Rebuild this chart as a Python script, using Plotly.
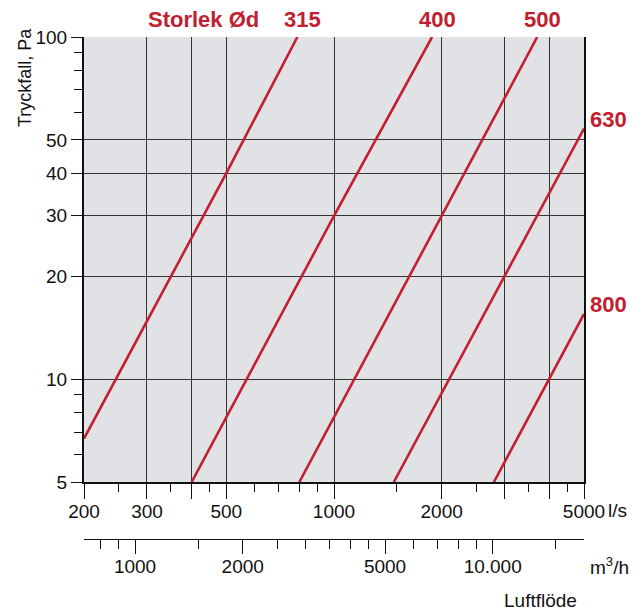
import plotly.graph_objects as go
import math

# ---------------- data ----------------
sizes = ["315", "400", "500", "630", "800"]
flow_ls = {
    "315": [200, 500, 790],
    "400": [400, 1000, 1880],
    "500": [800, 2000, 3700],
    "630": [1470, 3000, 5000],
    "800": [2800, 4000, 5000],
}
pressure_pa = {
    "315": [6.7, 40, 100],
    "400": [5, 30, 100],
    "500": [5, 30, 100],
    "630": [5, 20, 54],
    "800": [5, 10, 15.5],
}

x_range_ls = [200, 5000]
y_range_pa = [5, 100]
ls_to_m3h = 3.6

x_major = [200, 300, 400, 500, 1000, 2000, 3000, 4000, 5000]
x_major_text = ["200", "300", "", "500", "1000", "2000", "", "", "5000"]
x_minor = [250, 350, 450, 600, 700, 800, 900, 1500, 2500, 3500, 4500]

y_major = [5, 10, 20, 30, 40, 50, 100]
y_major_text = ["5", "10", "20", "30", "40", "50", "100"]
y_minor = [6, 7, 8, 9, 60, 70, 80, 90]

m3h_major = [1000, 2000, 5000, 10000]
m3h_major_text = ["1000", "2000", "5000", "10.000"]
m3h_minor = [800, 900, 1500, 2500, 3000, 3500, 4000, 4500, 6000, 7000, 8000, 9000, 15000]

RED = "#c0202f"
FONT = "Liberation Sans, Arial, Helvetica, sans-serif"

# ---------------- layout geometry ----------------
W, H = 637, 613
ml, mr, mt, mb = 84, 53, 37, 74
plot_h = H - mt - mb
y_bottom_px = 482
ydom0 = (H - mb - y_bottom_px) / plot_h

fig = go.Figure()

for s in sizes:
    fig.add_trace(go.Scatter(
        x=flow_ls[s], y=pressure_pa[s], mode="lines",
        line=dict(color=RED, width=2.6), name=s, showlegend=False,
        hoverinfo="skip", cliponaxis=True,
    ))

# invisible trace to materialise the m3/h axis
fig.add_trace(go.Scatter(
    x=[x_range_ls[0] * ls_to_m3h, x_range_ls[1] * ls_to_m3h],
    y=[y_range_pa[0], y_range_pa[0]], xaxis="x2", yaxis="y",
    mode="markers", marker=dict(opacity=0), showlegend=False, hoverinfo="skip",
))

tickfont = dict(family=FONT, size=19, color="#111")

fig.update_layout(
    width=W, height=H,
    margin=dict(l=ml, r=mr, t=mt, b=mb, pad=0),
    paper_bgcolor="white",
    plot_bgcolor="#e1e2e6",
    showlegend=False,
    xaxis=dict(
        type="log",
        range=[math.log10(x_range_ls[0]), math.log10(x_range_ls[1])],
        tickmode="array", tickvals=x_major, ticktext=x_major_text,
        ticks="outside", ticklen=15, tickwidth=1, tickcolor="#111",
        tickfont=tickfont, ticklabelstandoff=-4,
        showgrid=True, gridcolor="#333", gridwidth=1,
        showline=True, linecolor="#111", linewidth=2,
        zeroline=False,
        minor=dict(tickmode="array", tickvals=x_minor, ticks="outside",
                   ticklen=8, tickwidth=1, tickcolor="#111", showgrid=False),
        anchor="y",
    ),
    xaxis2=dict(
        type="log", overlaying="x", anchor="free", position=0, side="bottom",
        range=[math.log10(x_range_ls[0] * ls_to_m3h), math.log10(x_range_ls[1] * ls_to_m3h)],
        tickmode="array", tickvals=m3h_major, ticktext=m3h_major_text,
        ticks="outside", ticklen=14, tickwidth=1, tickcolor="#111",
        tickfont=tickfont, ticklabelstandoff=-4,
        showgrid=False, showline=True, linecolor="#111", linewidth=1,
        zeroline=False,
        minor=dict(tickmode="array", tickvals=m3h_minor, ticks="outside",
                   ticklen=9, tickwidth=1, tickcolor="#111", showgrid=False),
    ),
    yaxis=dict(
        type="log", domain=[ydom0, 1],
        range=[math.log10(y_range_pa[0]), math.log10(y_range_pa[1])],
        tickmode="array", tickvals=y_major, ticktext=y_major_text,
        ticks="outside", ticklen=11, tickwidth=1, tickcolor="#111",
        tickfont=tickfont,
        showgrid=True, gridcolor="#333", gridwidth=1,
        showline=True, linecolor="#111", linewidth=2, mirror=True,
        zeroline=False,
        minor=dict(tickmode="array", tickvals=y_minor, ticks="outside",
                   ticklen=8, tickwidth=1, tickcolor="#111", showgrid=False),
    ),
)

def px_x(px):
    return (px - ml) / (W - ml - mr)

def px_y(px):
    return (H - mb - px) / plot_h

redfont = dict(family=FONT, size=22, color=RED, weight="bold")

ann = []
# size labels at the top of each line
top_sizes = ["315", "400", "500"]
for s in top_sizes:
    ann.append(dict(x=math.log10(flow_ls[s][-1]), xref="x", y=1, yref="paper",
                    text=s, showarrow=False, xanchor="center", yanchor="bottom",
                    xshift=5, yshift=3, font=redfont))
right_sizes = ["630", "800"]
for s in right_sizes:
    ann.append(dict(x=1, xref="paper", y=math.log10(pressure_pa[s][-1]), yref="y",
                    text=s, showarrow=False, xanchor="left", yanchor="middle",
                    xshift=4, yshift=9, font=redfont))
ann.append(dict(x=px_x(203), y=1, xref="paper", yref="paper", text="Storlek Ød",
                showarrow=False, xanchor="center", yanchor="bottom", yshift=3,
                font=redfont))
ann.append(dict(x=px_x(25), y=px_y(78), xref="paper", yref="paper",
                text="Tryckfall, Pa", textangle=-90, showarrow=False,
                xanchor="center", yanchor="middle",
                font=dict(family=FONT, size=18, color="#111")))
ann.append(dict(x=px_x(606), y=px_y(510), xref="paper", yref="paper",
                text="l/s", showarrow=False, xanchor="left", yanchor="middle",
                font=dict(family=FONT, size=19, color="#111")))
ann.append(dict(x=px_x(588), y=px_y(566), xref="paper", yref="paper",
                text="m<sup>3</sup>/h", showarrow=False, xanchor="left", yanchor="middle",
                font=dict(family=FONT, size=19, color="#111")))
ann.append(dict(x=px_x(540), y=px_y(600), xref="paper", yref="paper",
                text="Luftflöde", showarrow=False, xanchor="center", yanchor="middle",
                font=dict(family=FONT, size=19, color="#111")))
fig.update_layout(annotations=ann)

fig.write_html("out.html", post_script="document.body.style.margin='0';",
               config={"displayModeBar": False})
